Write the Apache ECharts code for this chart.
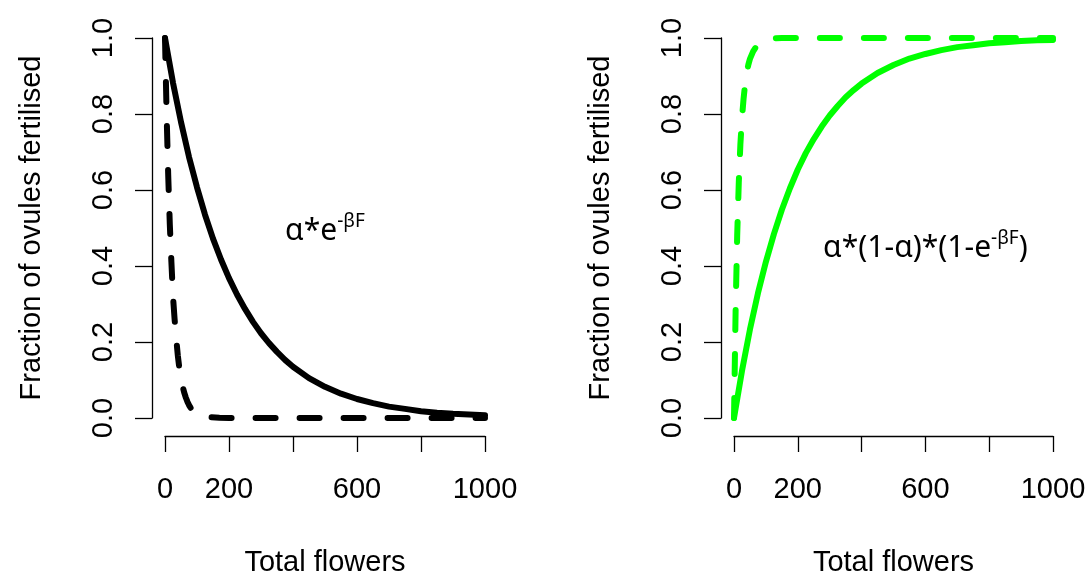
<!DOCTYPE html>
<html><head><meta charset="utf-8">
<script src="https://cdn.jsdelivr.net/npm/echarts@6/dist/echarts.min.js"></script>
<style>html,body{margin:0;padding:0;background:#fff}#c{width:1091px;height:574px}</style>
</head><body><div id="c"></div><script>
// ---- data ----
const xTicks = [0, 200, 400, 600, 800, 1000];
const xTickLabels = [0, 200, 600, 1000];
const yTicks = [0, 0.2, 0.4, 0.6, 0.8, 1.0];
const yTickLabels = ['0.0', '0.2', '0.4', '0.6', '0.8', '1.0'];

const solidF = [0, 25, 50, 75, 100, 125, 150, 175, 200, 225, 250, 275, 300, 325, 350, 375, 400, 450, 500, 550, 600, 650, 700, 750, 800, 850, 900, 950, 1000];
const leftSolid = [1, 0.882, 0.779, 0.687, 0.607, 0.535, 0.472, 0.417, 0.368, 0.325, 0.287, 0.253, 0.223, 0.197, 0.174, 0.153, 0.135, 0.105, 0.082, 0.064, 0.050, 0.039, 0.030, 0.024, 0.018, 0.014, 0.011, 0.009, 0.007];
const rightSolid = [0, 0.124, 0.233, 0.328, 0.411, 0.484, 0.548, 0.604, 0.654, 0.697, 0.734, 0.767, 0.796, 0.821, 0.844, 0.863, 0.880, 0.908, 0.929, 0.946, 0.958, 0.968, 0.976, 0.981, 0.986, 0.989, 0.992, 0.994, 0.995];

const leftDashF = [0, 5, 10, 15, 20, 25, 30, 35, 40, 45, 50, 55, 60, 65, 70, 75, 80, 90, 100, 120, 140, 170, 200, 300, 400, 500, 600, 700, 800, 900, 1000];
const leftDash = [1, 0.80, 0.64, 0.51, 0.41, 0.32, 0.26, 0.21, 0.165, 0.13, 0.105, 0.084, 0.067, 0.054, 0.043, 0.034, 0.027, 0.017, 0.011, 0.005, 0.002, 0.0005, 0, 0, 0, 0, 0, 0, 0, 0, 0];

const rightDashF = [0, 5, 10, 15, 20, 25, 30, 35, 40, 45, 50, 60, 70, 80, 100, 120, 150, 200, 300, 400, 500, 600, 700, 800, 900, 1000];
const rightDash = [0, 0.28, 0.48, 0.62, 0.72, 0.79, 0.84, 0.88, 0.91, 0.93, 0.945, 0.965, 0.978, 0.987, 0.996, 0.999, 1, 1, 1, 1, 1, 1, 1, 1, 1, 1];

const yTitle = 'Fraction of ovules fertilised';
const xTitle = 'Total flowers';
const leftNote = { pos: [500, 0.49], main: 'α*e', sup: '-βF', tail: '' };
const rightNote = { pos: [600, 0.445], main: 'α*(1-α)*(1-e', sup: '-βF', tail: ')' };

// ---- chart ----
const zip = (xs, ys) => xs.map((x, i) => [x, ys[i]]);
const axisFont = 'Liberation Sans, Arial, sans-serif';
const ink = '#000';

function xAxisCfg(gi) {
  return {
    type: 'value', gridIndex: gi, min: 0, max: 1000, interval: 200, offset: 18,
    name: xTitle, nameLocation: 'middle', nameGap: 112,
    nameTextStyle: { fontFamily: axisFont, fontSize: 29, color: ink },
    axisLine: { show: true, onZero: false, lineStyle: { color: ink, width: 1.3 } },
    axisTick: { show: true, length: 16, customValues: xTicks, lineStyle: { color: ink, width: 1.3 } },
    axisLabel: { show: true, customValues: xTickLabels, margin: 39, fontFamily: axisFont, fontSize: 29, color: ink,
      formatter: v => String(v) },
    splitLine: { show: false }
  };
}
function yAxisCfg(gi) {
  return {
    type: 'value', gridIndex: gi, min: 0, max: 1, interval: 0.2, offset: 13,
    name: yTitle, nameLocation: 'middle', nameRotate: 90, nameGap: 106,
    nameTextStyle: { fontFamily: axisFont, fontSize: 29, color: ink },
    axisLine: { show: true, onZero: false, lineStyle: { color: ink, width: 1.3 } },
    axisTick: { show: true, length: 17, customValues: yTicks, lineStyle: { color: ink, width: 1.3 } },
    axisLabel: {
      show: true, rotate: 90, margin: 34, fontFamily: axisFont, fontSize: 29, color: ink,
      formatter: v => yTickLabels[yTicks.findIndex(t => Math.abs(t - v) < 1e-9)] || ''
    },
    splitLine: { show: false }
  };
}
function lineSeries(gi, data, color, dashed) {
  return {
    type: 'line', xAxisIndex: gi, yAxisIndex: gi, data, showSymbol: false, symbol: 'none',
    smooth: false, clip: false, animation: false,
    lineStyle: { color, width: 6, type: dashed ? [20, 24] : 'solid', cap: 'round', join: 'round' }
  };
}
function noteSeries(gi, note) {
  return {
    type: 'scatter', xAxisIndex: gi, yAxisIndex: gi, data: [note.pos], symbolSize: 0,
    silent: true, animation: false, itemStyle: { opacity: 1 },
    label: {
      show: true, position: 'inside', color: ink, textBorderWidth: 0, opacity: 1,
      formatter: '{a|' + note.main + '}{s|' + note.sup + '}' + (note.tail ? '{a|' + note.tail + '}' : ''),
      rich: {
        a: { fontFamily: 'Noto Sans', fontSize: 30, color: ink, lineHeight: 40, textBorderWidth: 0 },
        s: { fontFamily: 'Noto Sans', fontSize: 19, color: ink, lineHeight: 19, verticalAlign: 'top', textBorderWidth: 0 }
      }
    }
  };
}

const chart = echarts.init(document.getElementById('c'), null, { renderer: 'canvas' });
chart.setOption({
  backgroundColor: '#fff',
  animation: false,
  grid: [
    { left: 165, right: 606, top: 38, bottom: 156, outerBoundsMode: 'none', containLabel: false },
    { left: 734, right: 38, top: 38, bottom: 156, outerBoundsMode: 'none', containLabel: false }
  ],
  xAxis: [xAxisCfg(0), xAxisCfg(1)],
  yAxis: [yAxisCfg(0), yAxisCfg(1)],
  series: [
    lineSeries(0, zip(leftDashF, leftDash), '#000', true),
    lineSeries(0, zip(solidF, leftSolid), '#000', false),
    lineSeries(1, zip(rightDashF, rightDash), '#00ff00', true),
    lineSeries(1, zip(solidF, rightSolid), '#00ff00', false),
    noteSeries(0, leftNote),
    noteSeries(1, rightNote)
  ]
});
</script></body></html>
